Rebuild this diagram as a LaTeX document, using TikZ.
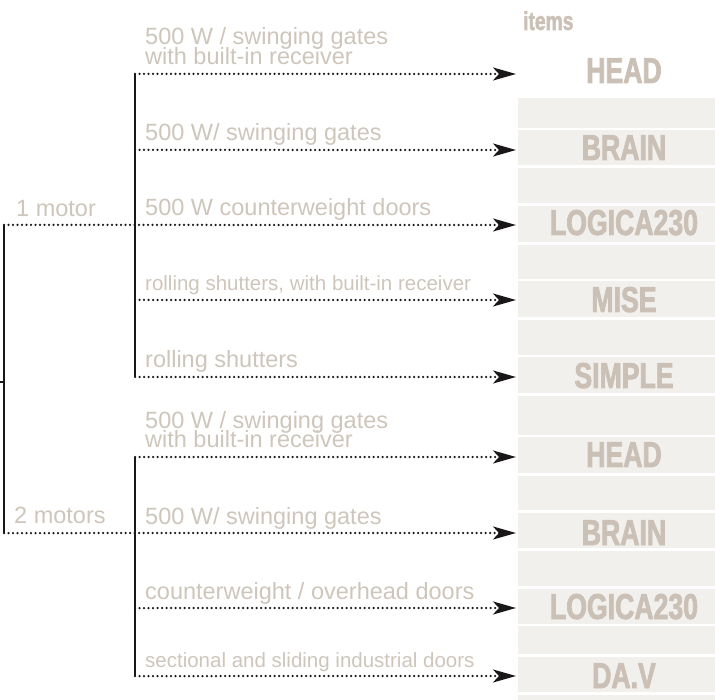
\documentclass[tikz,border=0pt]{standalone}
\usepackage{fontspec}
\setmainfont{Liberation Sans}
\newfontfamily\itemfont{Liberation Sans}[FakeStretch=0.74, FakeBold=2]
\usetikzlibrary{arrows.meta}
\definecolor{txt}{HTML}{CEC5BB}
\definecolor{itm}{HTML}{CAC0B6}
\definecolor{band}{HTML}{F1F0ED}
\definecolor{ink}{HTML}{1A1718}
\newcommand{\twolines}[2]{\vbox{\baselineskip=20pt\lineskiplimit=-20pt\hbox{#1}\hbox{#2}}}
\begin{document}
\begin{tikzpicture}[x=1pt,y=-1pt,
  lbl/.style={inner sep=0pt, anchor=base west, text=txt, font=\fontsize{23.5}{20}\selectfont},
  lblsmall/.style={lbl, font=\fontsize{20.5}{20}\selectfont},
  item/.style={inner sep=0pt, anchor=base, text=itm, font=\itemfont\bfseries\fontsize{36}{36}\selectfont},
  bar/.style={draw=ink, line width=2.8pt},
  conn/.style={draw=ink, line width=2.5pt, line cap=round, dash pattern=on 0pt off 4.5pt,
    -{Stealth[length=23pt,width=13pt,inset=6pt]}},
  bandbox/.style={fill=band, draw=none}]
\useasboundingbox (0,0) rectangle (715,700);
% background bands
\foreach \t/\b in {98/128,130/165,168/203,206/242,245/279,281/317,320/355,357/393,396/435,437/473,476/510,513/548,551/586,589/624,626/654,657/692,695/700}
  \path[bandbox] (518,\t) rectangle (715,\b);
% items
\node[item, anchor=base west, font=\itemfont\bfseries\fontsize{26}{26}\selectfont] (items) at (523,30) {items};
\node[item] (h1) at (624,83) {HEAD};
\node[item] (br1) at (624,160) {BRAIN};
\node[item] (lg1) at (624,235) {LOGICA230};
\node[item] (mi) at (624,312) {MISE};
\node[item] (si) at (624,388) {SIMPLE};
\node[item] (h2) at (624,467) {HEAD};
\node[item] (br2) at (624,545) {BRAIN};
\node[item] (lg2) at (624,619) {LOGICA230};
\node[item] (da) at (624,688) {DA.V};
% coordinates
\coordinate (root1) at (4,225);
\coordinate (root2) at (4,533);
\coordinate (b1top) at (135,74);
\coordinate (b1bot) at (135,377);
\coordinate (b2top) at (135,457);
\coordinate (b2bot) at (135,676);
\coordinate (stub) at (0,382);
\coordinate (e1) at (516,74);
\coordinate (e2) at (516,150);
\coordinate (e3) at (516,225);
\coordinate (e4) at (516,300);
\coordinate (e5) at (516,377);
\coordinate (e6) at (516,457);
\coordinate (e7) at (516,533);
\coordinate (e8) at (516,608);
\coordinate (e9) at (516,676);
% connectors
\draw[conn] (b1top) -- (e1);
\draw[conn] (b1top |- e2) -- (e2);
\draw[conn] (root1) -- (e3);
\draw[conn] (b1top |- e4) -- (e4);
\draw[conn] (b1bot) -- (e5);
\draw[conn] (b2top) -- (e6);
\draw[conn] (root2) -- (e7);
\draw[conn] (b2top |- e8) -- (e8);
\draw[conn] (b2bot) -- (e9);
\draw[bar] (root1) -- (root2);
\draw[bar] (b1top) -- (b1bot);
\draw[bar] (b2top) -- (b2bot);
\draw[bar, line width=1.5pt] (stub) -- (stub -| root1);
% labels
\node[lbl] (m1) at (16,217) {1 motor};
\node[lbl] (m2) at (14,523) {2 motors};
\node[lbl] (l1) at (145,65) {\twolines{500 W / swinging gates}{with built-in receiver}};
\node[lbl] (l2) at (145,141) {500 W/ swinging gates};
\node[lbl] (l3) at (145,216) {500 W counterweight doors};
\node[lblsmall] (l4) at (145,291) {rolling shutters, with built-in receiver};
\node[lbl] (l5) at (145,368) {rolling shutters};
\node[lbl] (l6) at (145,448) {\twolines{500 W / swinging gates}{with built-in receiver}};
\node[lbl] (l7) at (145,524) {500 W/ swinging gates};
\node[lbl] (l8) at (145,599) {counterweight / overhead doors};
\node[lblsmall] (l9) at (145,667) {sectional and sliding industrial doors};
\end{tikzpicture}
\end{document}
